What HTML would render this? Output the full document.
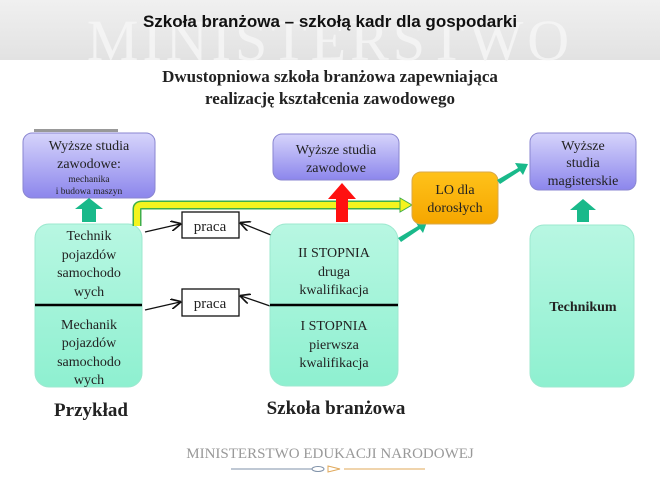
<!DOCTYPE html>
<html><head><meta charset="utf-8"><style>
body{margin:0;background:#fff}
svg{display:block}
.s{font-family:"Liberation Serif",serif;fill:#222;text-anchor:middle}
</style></head><body>
<svg width="660" height="480" viewBox="0 0 660 480">
<defs>
<linearGradient id="hd" x1="0" y1="0" x2="0" y2="1"><stop offset="0" stop-color="#f0f0f0"/><stop offset="1" stop-color="#e2e2e2"/></linearGradient>
<linearGradient id="pu" x1="0" y1="0" x2="0" y2="1"><stop offset="0" stop-color="#d6d4fb"/><stop offset="1" stop-color="#8c86ec"/></linearGradient>
<linearGradient id="gr" x1="0" y1="0" x2="0" y2="1"><stop offset="0" stop-color="#b8f7e2"/><stop offset="1" stop-color="#8ef0d0"/></linearGradient>
<linearGradient id="or" x1="0" y1="0" x2="0" y2="1"><stop offset="0" stop-color="#ffc21a"/><stop offset="1" stop-color="#f5a600"/></linearGradient>
<marker id="ah" markerWidth="8" markerHeight="8" refX="7" refY="4" orient="auto"><path d="M0,0 L8,4 L0,8" fill="none" stroke="#111" stroke-width="1.3"/></marker>
</defs>
<rect x="0" y="0" width="660" height="60" fill="url(#hd)"/>
<text x="330" y="60" font-family="Liberation Serif" font-size="58" fill="#f7f7f7" opacity="0.8" text-anchor="middle" letter-spacing="4">MINISTERSTWO</text>
<text x="330" y="27" font-family="Liberation Sans" font-weight="bold" font-size="17" fill="#111" text-anchor="middle">Szkoła branżowa – szkołą kadr dla gospodarki</text>
<text x="330" y="82" class="s" font-weight="bold" font-size="17" fill="#111">Dwustopniowa szkoła branżowa zapewniająca</text>
<text x="330" y="104" class="s" font-weight="bold" font-size="17" fill="#111">realizację kształcenia zawodowego</text>

<rect x="34" y="129" width="84" height="3" fill="#999"/>
<rect x="23" y="133" width="132" height="65" rx="9" fill="url(#pu)" stroke="#8a86d0"/>
<text class="s" x="89" y="150" font-size="14">Wyższe studia</text>
<text class="s" x="89" y="168" font-size="14">zawodowe:</text>
<text class="s" x="89" y="182" font-size="9.5">mechanika</text>
<text class="s" x="89" y="194" font-size="9.5">i budowa maszyn</text>
<path d="M82,222 V209 H75 L89,198 L103,209 H96 V222 Z" fill="#19b98a"/>

<rect x="35" y="224" width="107" height="163" rx="14" fill="url(#gr)" stroke="#9ce8cf"/>
<line x1="35" y1="305" x2="142" y2="305" stroke="#000" stroke-width="2.5"/>
<g class="s" font-size="14"><text x="89" y="240">Technik</text><text x="89" y="259">pojazdów</text><text x="89" y="277">samochodo</text><text x="89" y="296">wych</text>
<text x="89" y="329">Mechanik</text><text x="89" y="347">pojazdów</text><text x="89" y="366">samochodo</text><text x="89" y="384">wych</text></g>

<path d="M137,226 V209 Q137,205 142,205 H402" fill="none" stroke="#3fae4a" stroke-width="9"/>
<path d="M137,226 V209 Q137,205 142,205 H402" fill="none" stroke="#f4f41e" stroke-width="6"/>
<path d="M400,198 L412,205 L400,212 Z" fill="#f4f41e" stroke="#3fae4a"/>

<rect x="182" y="212" width="57" height="26" fill="#fff" stroke="#111" stroke-width="1.3"/>
<text class="s" x="210" y="231" font-size="15">praca</text>
<rect x="182" y="289" width="57" height="27" fill="#fff" stroke="#111" stroke-width="1.3"/>
<text class="s" x="210" y="308" font-size="15">praca</text>
<g stroke="#111" stroke-width="1.3" marker-end="url(#ah)">
<line x1="145" y1="232" x2="180" y2="224"/><line x1="271" y1="235" x2="241" y2="223"/>
<line x1="145" y1="310" x2="180" y2="302"/><line x1="270" y1="306" x2="241" y2="296"/></g>

<rect x="273" y="134" width="126" height="46" rx="9" fill="url(#pu)" stroke="#8a86d0"/>
<text class="s" x="336" y="154" font-size="14">Wyższe studia</text>
<text class="s" x="336" y="172" font-size="14">zawodowe</text>
<path d="M336,222 V199 H328 L342,183 L356,199 H348 V222 Z" fill="#ff1010"/>
<rect x="270" y="224" width="128" height="162" rx="16" fill="url(#gr)" stroke="#9ce8cf"/>
<line x1="270" y1="305" x2="398" y2="305" stroke="#000" stroke-width="2.5"/>
<g class="s" font-size="14"><text x="334" y="257">II STOPNIA</text><text x="334" y="276">druga</text><text x="334" y="294">kwalifikacja</text>
<text x="334" y="330">I STOPNIA</text><text x="334" y="349">pierwsza</text><text x="334" y="367">kwalifikacja</text></g>

<path d="M398,238 L418,226 L415,221 L427,222 L423,233 L420,229 L401,242 Z" fill="#19b98a"/>
<rect x="412" y="172" width="86" height="52" rx="9" fill="url(#or)" stroke="#d9a84a"/>
<text class="s" x="455" y="194" font-size="14">LO dla</text>
<text class="s" x="455" y="212" font-size="14">dorosłych</text>
<path d="M497,180 L518,168 L515,163 L528,164 L523,175 L520,171 L500,184 Z" fill="#19b98a"/>

<rect x="530" y="133" width="106" height="57" rx="9" fill="url(#pu)" stroke="#8a86d0"/>
<g class="s" font-size="14"><text x="583" y="150">Wyższe</text><text x="583" y="167">studia</text><text x="583" y="185">magisterskie</text></g>
<path d="M577,222 V210 H570 L583,199 L596,210 H589 V222 Z" fill="#19b98a"/>
<rect x="530" y="225" width="104" height="162" rx="14" fill="url(#gr)" stroke="#9ce8cf"/>
<text class="s" x="583" y="311" font-size="14" font-weight="bold" fill="#111">Technikum</text>

<text class="s" x="91" y="416" font-size="19" font-weight="bold" fill="#111">Przykład</text>
<text class="s" x="336" y="414" font-size="19" font-weight="bold" fill="#111">Szkoła branżowa</text>

<text class="s" x="330" y="458" font-size="15" style="fill:#999">MINISTERSTWO EDUKACJI NARODOWEJ</text>
<line x1="231" y1="469" x2="312" y2="469" stroke="#7f91a8"/>
<line x1="344" y1="469" x2="425" y2="469" stroke="#e0a85a"/>
<ellipse cx="318" cy="469" rx="6" ry="2.5" fill="none" stroke="#7f91a8"/>
<path d="M328,466 L340,469 L328,472 Z" fill="none" stroke="#e0a85a"/>
</svg>
</body></html>
